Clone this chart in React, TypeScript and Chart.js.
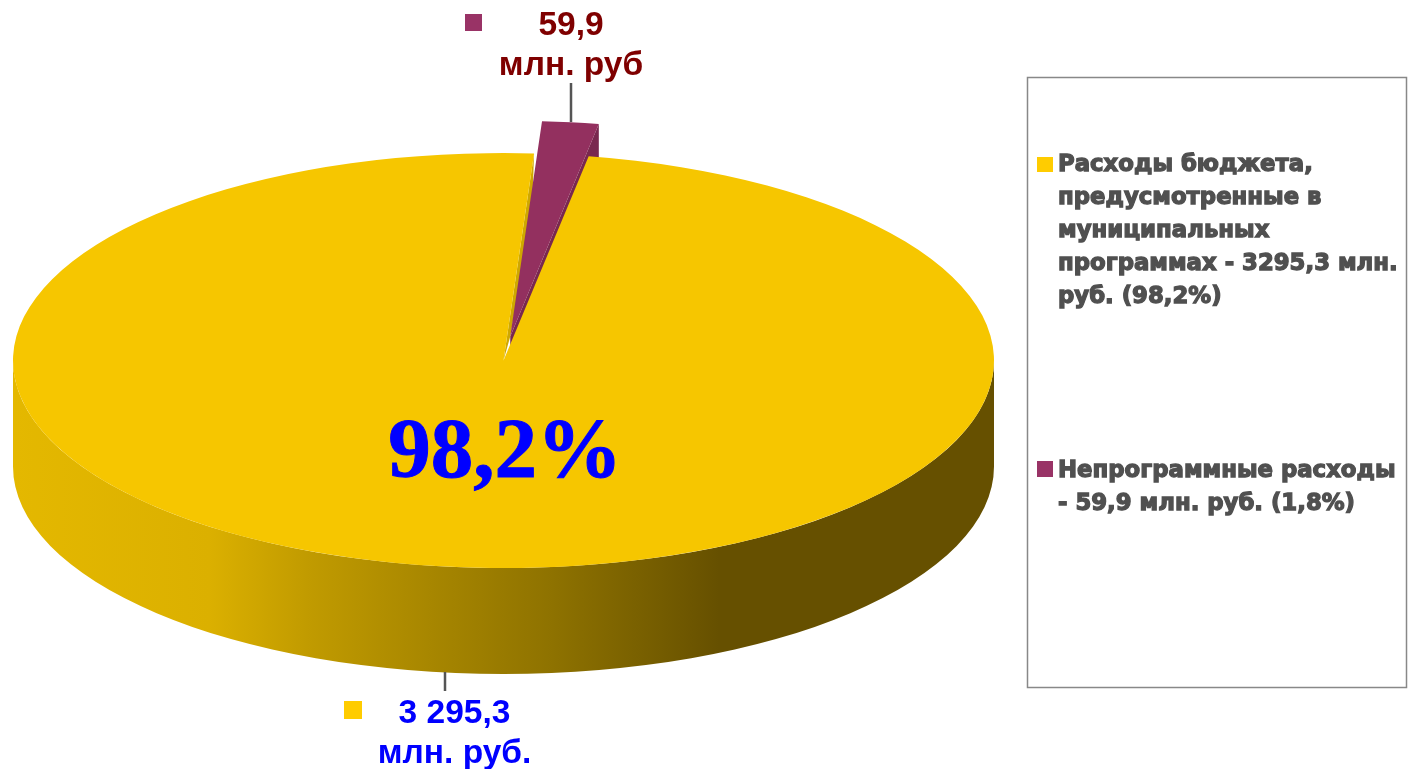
import React, { useEffect, useRef } from "react";
import { Chart, registerables } from "chart.js";

Chart.register(...registerables);

const categories = ["Расходы бюджета, предусмотренные в муниципальных программах", "Непрограммные расходы"];
const seriesValues = [3295.3, 59.9];
const sliceColors = ["#F6C600", "#93305F"];
const swatchColors = ["#FFCC00", "#993366"];
const legendLines = [
  ["Расходы бюджета,", "предусмотренные в", "муниципальных", "программах - 3295,3 млн.", "руб. (98,2%)"],
  ["Непрограммные расходы", "- 59,9 млн. руб. (1,8%)"],
];
const yellowLabel = ["3 295,3", "млн. руб."];
const purpleLabel = ["59,9", "млн. руб"];
const centerLabel = "98,2%";

const SQUASH = 0.423;
const DEPTH = 106;
const EXPLODE_OFFSET = 228;
const EXPLODED_RADIUS = 459.4;

function explodedGeometry(purple: any) {
  const off = purple.options.offset / 4;
  const fix = 1 - Math.sin(Math.min(Math.PI, purple.circumference || 0));
  const radiusOffset = off * fix;
  return { off, radiusOffset, R: purple.outerRadius + radiusOffset };
}

function drawWalls(chart: any) {
  const ctx = chart.ctx;
  const [yellow, purple] = chart.getDatasetMeta(0).data as any[];
  const { x, y, outerRadius: r } = yellow;
  const ry = r * SQUASH;
  const g = ctx.createLinearGradient(x - r, 0, x + r, 0);
  g.addColorStop(0, "#E4B800");
  g.addColorStop(0.2, "#DBB000");
  g.addColorStop(0.3, "#C19B00");
  g.addColorStop(0.55, "#8E7200");
  g.addColorStop(0.72, "#665000");
  g.addColorStop(1, "#665000");
  ctx.save();
  ctx.fillStyle = g;
  ctx.beginPath();
  ctx.moveTo(x + r, y);
  ctx.lineTo(x + r, y + DEPTH);
  ctx.ellipse(x, y + DEPTH, r, ry, 0, 0, Math.PI);
  ctx.lineTo(x - r, y);
  ctx.ellipse(x, y, r, ry, 0, Math.PI, 0, true);
  ctx.closePath();
  ctx.fill();

  // wall of the exploded slice (same translation Chart.js applies to the arc)
  const { off, R } = explodedGeometry(purple);
  const mid = (purple.startAngle + purple.endAngle) / 2;
  const trueEnd = yellow.startAngle;
  const ax = purple.x + Math.cos(mid) * off;
  const ay = purple.y + Math.sin(mid) * off * SQUASH;
  const ox = ax + Math.cos(trueEnd) * R;
  const oy = ay + Math.sin(trueEnd) * R * SQUASH;
  ctx.fillStyle = "#79284F";
  ctx.beginPath();
  ctx.moveTo(ax, ay);
  ctx.lineTo(ox, oy);
  ctx.lineTo(ox, oy + DEPTH);
  ctx.lineTo(ax, ay + DEPTH);
  ctx.closePath();
  ctx.fill();

  // cut face of the large slice, seen in the notch left of the exploded slice
  const ex = x + Math.cos(yellow.endAngle) * r;
  const ey = y + Math.sin(yellow.endAngle) * r * SQUASH;
  ctx.fillStyle = "#CFA800";
  ctx.beginPath();
  ctx.moveTo(x, y);
  ctx.lineTo(ex, ey);
  ctx.lineTo(x + (ex - x) * 0.7 + 7, y + (ey - y) * 0.7);
  ctx.lineTo(ax, ay);
  ctx.closePath();
  ctx.fill();
  ctx.restore();
}

const piePlugin = {
  id: "pie3d",
  afterDatasetsUpdate(chart: any) {
    const purple = (chart.getDatasetMeta(0).data as any[])[1];
    purple.outerRadius = EXPLODED_RADIUS;
    // Chart.js narrows an offset arc by radiusOffset / (PI * R); widen it back to its true angle
    const { radiusOffset, R } = explodedGeometry(purple);
    const narrowed = radiusOffset / (Math.PI * R);
    purple.startAngle -= narrowed / 2;
    purple.endAngle += narrowed / 2;
  },
  beforeDatasetsDraw(chart: any) {
    const ctx = chart.ctx;
    const { x, y } = chart.getDatasetMeta(0).data[0] as any;
    drawWalls(chart);
    ctx.save();
    ctx.translate(x, y);
    ctx.scale(1, SQUASH);
    ctx.translate(-x, -y);
  },
  afterDatasetsDraw(chart: any) {
    chart.ctx.restore();
  },
  afterDraw(chart: any) {
    const ctx = chart.ctx;
    ctx.save();
    // leader lines
    ctx.strokeStyle = "#555555";
    ctx.lineWidth = 2.5;
    ctx.beginPath();
    ctx.moveTo(571, 83);
    ctx.lineTo(571, 122);
    ctx.moveTo(445, 672);
    ctx.lineTo(445, 691);
    ctx.stroke();
    // data labels
    ctx.textAlign = "center";
    ctx.textBaseline = "alphabetic";
    ctx.font = 'bold 33.5px "Liberation Sans"';
    ctx.fillStyle = "#7F0000";
    ctx.fillText(purpleLabel[0], 571, 35);
    ctx.fillText(purpleLabel[1], 571, 75);
    ctx.fillStyle = "#0000FF";
    ctx.fillText(yellowLabel[0], 454.5, 723);
    ctx.fillText(yellowLabel[1], 454.5, 763);
    ctx.font = 'bold 85px "Liberation Serif"';
    ctx.strokeStyle = "#0000FF";
    ctx.lineWidth = 1;
    ctx.fillText(centerLabel, 505, 476.5);
    ctx.strokeText(centerLabel, 505, 476.5);
    // label swatches
    ctx.fillStyle = swatchColors[1];
    ctx.fillRect(465, 14, 17, 17);
    ctx.fillStyle = swatchColors[0];
    ctx.fillRect(344, 701, 18, 18);
    // legend box
    ctx.strokeStyle = "#888888";
    ctx.lineWidth = 1.5;
    ctx.strokeRect(1027.5, 77.5, 379, 610);
    ctx.fillStyle = swatchColors[0];
    ctx.fillRect(1037, 157, 16, 15);
    ctx.fillStyle = swatchColors[1];
    ctx.fillRect(1037, 461, 16, 16);
    ctx.textAlign = "left";
    ctx.font = 'bold 22.8px "DejaVu Sans"';
    ctx.fillStyle = "#505050";
    ctx.strokeStyle = "#505050";
    ctx.lineWidth = 1.3;
    const starts = [171, 477];
    legendLines.forEach((lines, i) => {
      lines.forEach((line, j) => {
        const ly = starts[i] + j * 33;
        ctx.fillText(line, 1058, ly);
        ctx.strokeText(line, 1058, ly);
      });
    });
    ctx.restore();
  },
};

export default function App() {
  const ref = useRef<HTMLCanvasElement>(null);
  useEffect(() => {
    const chart = new Chart(ref.current!, {
      type: "pie",
      data: {
        labels: categories,
        datasets: [
          {
            data: seriesValues,
            backgroundColor: sliceColors,
            borderWidth: 0,
            offset: [0, EXPLODE_OFFSET],
            radius: 490.5,
            clip: false,
          } as any,
        ],
      },
      options: {
        responsive: false,
        animation: false,
        rotation: 10,
        layout: { padding: { left: 0, right: 407, top: 0, bottom: 48 } },
        plugins: { legend: { display: false }, tooltip: { enabled: false } },
      },
      plugins: [piePlugin],
    } as any);
    return () => chart.destroy();
  }, []);
  return (
    <div style={{ position: "absolute", left: 0, top: 0, width: 1414, height: 769, background: "#fff" }}>
      <canvas ref={ref} width={1414} height={769} style={{ display: "block" }} />
    </div>
  );
}
